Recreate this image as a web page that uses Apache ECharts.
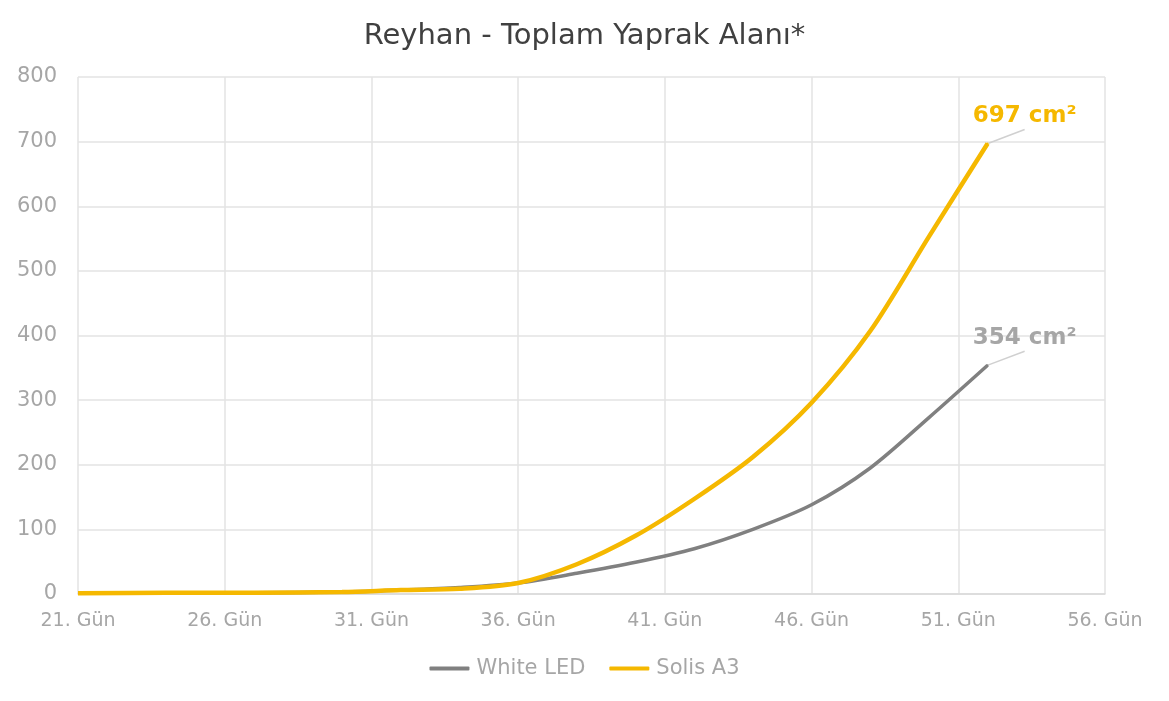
<!DOCTYPE html>
<html>
<head>
<meta charset="utf-8">
<script src="https://cdn.jsdelivr.net/npm/echarts@6/dist/echarts.min.js"></script>
<style>html,body{margin:0;padding:0;background:#fff;}#c{width:1169px;height:701px;}</style>
</head>
<body>
<div id="c"></div>
<script>
// Days 21..56 (category axis); measurement days only, others null
const days = [];
for (let d = 21; d <= 56; d++) days.push(d);
const dayLabels = days.map(d => d + '. Gün');

const measureDays = [21, 24, 27, 30, 32, 34, 36, 38, 40, 42, 44, 46, 48, 50, 52];
const whiteLED    = [1, 1, 2, 3, 6, 10, 17, 32, 49, 70, 100, 138, 195, 273, 354];
const solisA3     = [1, 2, 2, 3, 6, 8, 17, 46, 90, 147, 212, 296, 407, 553, 697];

const seriesNames = ['White LED', 'Solis A3'];
const unit = ' cm²';

function toSeries(vals) {
  return days.map(d => {
    const i = measureDays.indexOf(d);
    return i < 0 ? null : vals[i];
  });
}

const FONT = 'DejaVu Sans';
const chart = echarts.init(document.getElementById('c'));

function makeSeries(name, vals, color, width, labelColor) {
  const arr = toSeries(vals);
  const lastIdx = days.indexOf(measureDays[measureDays.length - 1]);
  const data = arr.map((v, i) => {
    if (i === lastIdx) {
      return {
        value: v,
        symbol: 'circle',
        symbolSize: 2,
        label: {
          show: true,
          formatter: v + unit,
          color: labelColor,
          fontFamily: FONT,
          fontWeight: 'bold',
          fontSize: 23,
          position: 'top',
          distance: 5,
          backgroundColor: 'rgba(255,255,255,0)',
          padding: [0, 45, 2, 45]
        }
      };
    }
    return v;
  });
  return {
    name: name,
    type: 'line',
    smooth: 0.3,
    connectNulls: true,
    symbol: 'none',
    showSymbol: true,
    showAllSymbol: true,
    data: data,
    lineStyle: { color: color, width: width },
    itemStyle: { color: color },
    labelLine: { show: true, lineStyle: { color: '#d0d0d0', width: 1.5 } },
    labelLayout: { dx: 37, dy: -8 },
    emphasis: { disabled: true }
  };
}

chart.setOption({
  animation: false,
  title: {
    text: 'Reyhan - Toplam Yaprak Alanı*',
    left: 'center',
    top: 17,
    textStyle: { fontFamily: FONT, fontWeight: 'normal', fontSize: 29, color: '#404040' }
  },
  legend: {
    bottom: 17,
    left: 'center',
    itemWidth: 40,
    itemHeight: 4,
    itemGap: 24,
    icon: 'roundRect',
    textStyle: { fontFamily: FONT, fontSize: 21, color: '#a6a6a6', padding: [0, 0, 0, 2] },
    data: seriesNames
  },
  grid: { left: 78, right: 64, top: 77, bottom: 107, containLabel: false },
  xAxis: {
    type: 'category',
    boundaryGap: false,
    data: dayLabels,
    axisLine: { lineStyle: { color: '#d9d9d9', width: 1.5 } },
    axisTick: { show: false },
    axisLabel: { interval: 4, color: '#a6a6a6', fontFamily: FONT, fontSize: 19, margin: 18 },
    splitLine: { show: true, interval: 4, lineStyle: { color: '#e3e3e3', width: 1.5 } }
  },
  yAxis: {
    type: 'value',
    min: 0, max: 800, interval: 100,
    axisLine: { show: false },
    axisTick: { show: false },
    axisLabel: { color: '#a6a6a6', fontFamily: FONT, fontSize: 21, margin: 21 },
    splitLine: { lineStyle: { color: '#e3e3e3', width: 1.5 } }
  },
  series: [
    makeSeries(seriesNames[0], whiteLED, '#808080', 3.5, '#a6a6a6'),
    makeSeries(seriesNames[1], solisA3, '#F5B800', 4.5, '#F5B800')
  ]
});
</script>
</body>
</html>
